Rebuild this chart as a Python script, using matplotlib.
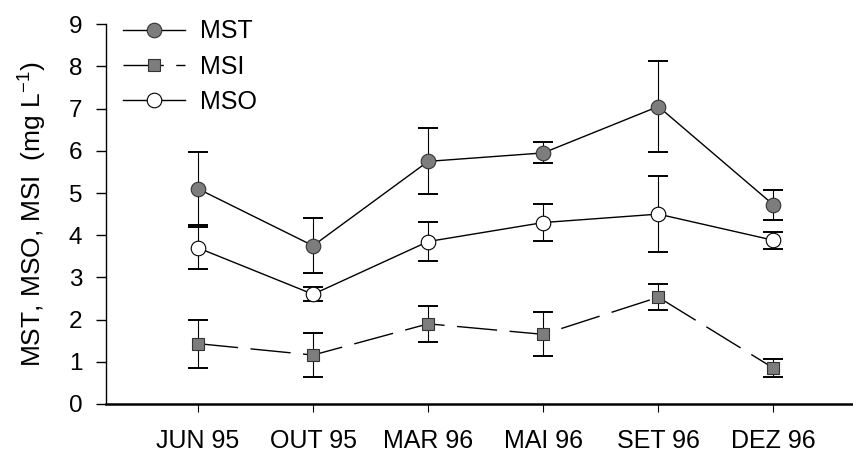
import matplotlib
matplotlib.use("Agg")
import matplotlib.pyplot as plt
import numpy as np

plt.rcParams['font.family'] = ['Liberation Sans', 'DejaVu Sans']
plt.rcParams['mathtext.fontset'] = 'custom'
plt.rcParams['mathtext.rm'] = 'Liberation Sans'
plt.rcParams['mathtext.it'] = 'Liberation Sans'

# campanhas (eixo x)
months = ['JUN 95', 'OUT 95', 'MAR 96', 'MAI 96', 'SET 96', 'DEZ 96']

# valores medios e desvios (mg/L)
mst = [5.10, 3.75, 5.75, 5.95, 7.05, 4.72]
mst_err = [0.87, 0.65, 0.78, 0.25, 1.07, 0.35]
mso = [3.70, 2.60, 3.85, 4.30, 4.50, 3.88]
mso_err = [0.50, 0.17, 0.47, 0.44, 0.90, 0.20]
msi = [1.43, 1.16, 1.90, 1.65, 2.53, 0.85]
msi_err = [0.57, 0.52, 0.42, 0.52, 0.31, 0.21]

yticks = list(range(0, 10))

fig = plt.figure(figsize=(8.54, 4.57), dpi=100)
ax = fig.add_axes([0.124, 0.116, 0.876, 0.831])

x = np.arange(len(months))
gray = '#7d7d7d'

# barras de erro
for vals, errs in [(mst, mst_err), (mso, mso_err), (msi, msi_err)]:
    ax.errorbar(x, vals, yerr=errs, fmt='none', ecolor='black',
                elinewidth=0.8, capsize=7.2, capthick=1.4, zorder=2)

ax.plot(x, mst, '-', color='black', lw=1.0, marker='o', ms=10.5,
        mfc=gray, mec='#333333', mew=0.8, label='MST', zorder=3)
ax.plot(x, msi, color='black', lw=1.0, dashes=(29, 9), marker='s', ms=8.5,
        mfc=gray, mec='#333333', mew=0.8, label='MSI', zorder=3)
ax.plot(x, mso, '-', color='black', lw=1.0, marker='o', ms=10.5,
        mfc='white', mec='black', mew=0.8, label='MSO', zorder=3)

ax.set_xlim(-0.8, 5.7)
ax.set_ylim(0, 9)
ax.set_xticks(x)
ax.set_xticklabels(months)
ax.set_yticks(yticks)

ax.spines['top'].set_visible(False)
ax.spines['right'].set_visible(False)
ax.spines['bottom'].set_linewidth(1.8)
ax.spines['left'].set_linewidth(1.0)

ax.tick_params(axis='y', direction='out', length=7, width=1.0, pad=10, labelsize=17.5)
ax.tick_params(axis='x', direction='out', length=6, width=0.8, pad=12, labelsize=18)

ax.set_ylabel('MST, MSO, MSI  (mg L$^{-1}$)', fontsize=19, labelpad=14)

ax.legend(loc='upper left', bbox_to_anchor=(0.006, 1.046), frameon=False,
          numpoints=1, handlelength=2.5, handletextpad=0.6,
          labelspacing=0.45, fontsize=18, borderpad=0)

fig.savefig('out.png', dpi=100)
